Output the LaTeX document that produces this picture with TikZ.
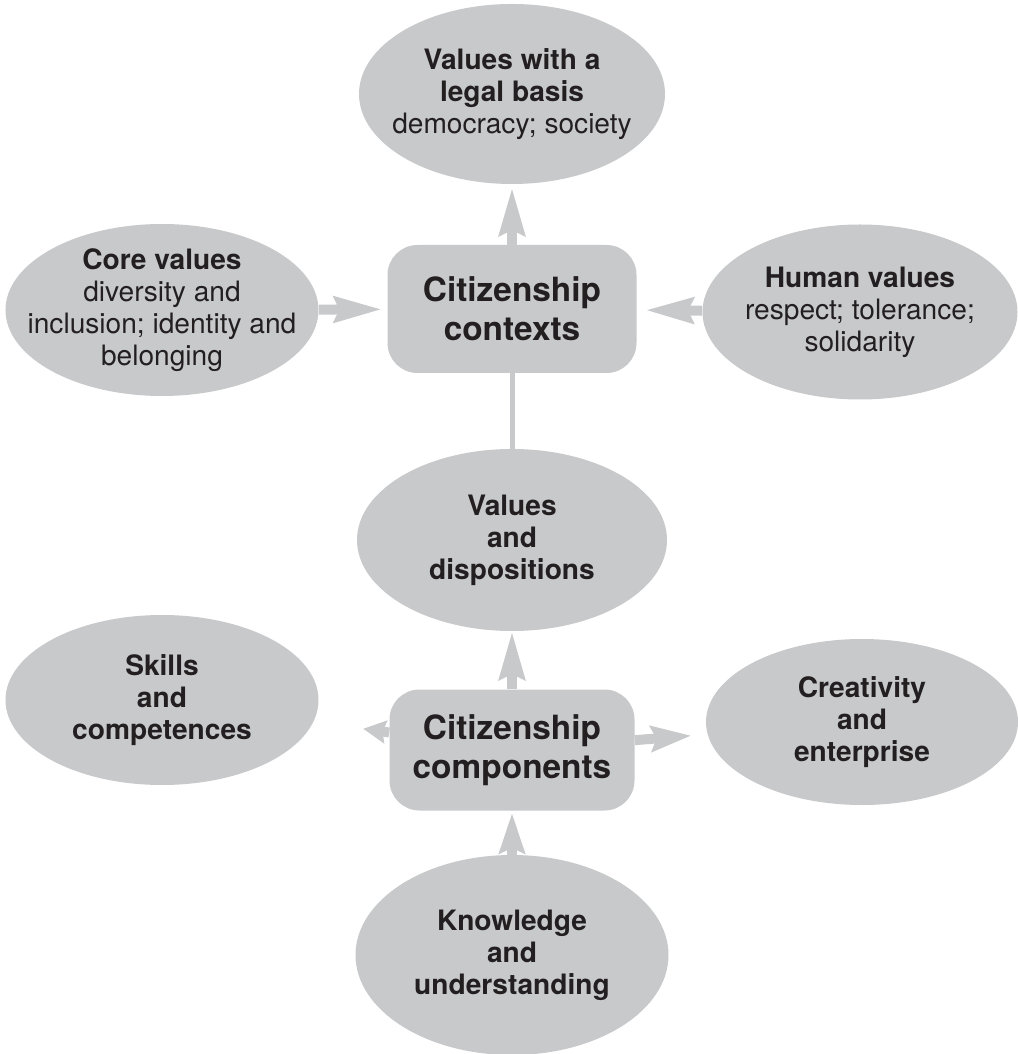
\documentclass[tikz,border=0pt]{standalone}
\usepackage{fontspec}
\setmainfont{TeX Gyre Heros}
\usetikzlibrary{shapes.geometric,arrows.meta}
\definecolor{boxgray}{RGB}{200,201,203}
\definecolor{inkdark}{RGB}{35,31,32}
\begin{document}
\begin{tikzpicture}[node distance=4.3cm]
\tikzstyle{hub} = [rectangle, rounded corners=0.6cm, minimum width=4.98cm, minimum height=2.56cm, text centered, align=center, fill=boxgray, text=inkdark, font=\fontsize{19}{22}\selectfont\bfseries]

\tikzstyle{oval} = [ellipse, inner sep=-0.6cm, minimum width=6.26cm, minimum height=3.5cm, text centered, align=center, fill=boxgray, text=inkdark, font=\fontsize{16}{18.2}\selectfont]

\tikzstyle{arrow} = [line width=0.2cm, draw=boxgray, -{Stealth[length=0.8cm,width=0.5cm,inset=0.1cm]}]
\tikzstyle{longarrow} = [line width=0.2cm, draw=boxgray, -{Stealth[length=0.95cm,width=0.5cm,inset=0.1cm]}]
\tikzstyle{smallarrow} = [line width=0.2cm, draw=boxgray, -{Stealth[length=0.45cm,width=0.45cm,inset=0.06cm]}]

\useasboundingbox (-10.24,6.18) rectangle (10.10,-14.90);

\node (ctx) [hub] {Citizenship\\contexts};
\node (legal) [oval, above of=ctx, minimum width=6.12cm, minimum height=3.6cm] {\textbf{Values with a}\\\textbf{legal basis}\\democracy; society};
\node (core) [oval, left of=ctx, xshift=-2.7cm, yshift=-0.02cm, minimum height=3.44cm] {\textbf{Core values}\\diversity and\\inclusion; identity and\\belonging};
\node (human) [oval, right of=ctx, xshift=2.66cm, yshift=-0.06cm, minimum width=6.3cm] {\textbf{Human values}\\respect; tolerance;\\solidarity};
\node (disp) [oval, below of=ctx, yshift=-0.32cm, minimum width=6.2cm, minimum height=3.64cm] {\textbf{Values}\\\textbf{and}\\\textbf{dispositions}};

\node (comp) [hub, below of=disp, yshift=0.1cm, minimum width=4.9cm, minimum height=2.42cm] {Citizenship\\components};
\node (skills) [oval, left of=comp, xshift=-2.7cm, yshift=1.0cm, minimum height=3.4cm] {\textbf{Skills}\\\textbf{and}\\\textbf{competences}};
\node (creat) [oval, right of=comp, xshift=2.7cm, yshift=0.56cm, minimum width=6.24cm, minimum height=3.32cm] {\textbf{Creativity}\\\textbf{and}\\\textbf{enterprise}};
\node (know) [oval, below of=comp, yshift=0.2cm, minimum height=4.0cm] {\textbf{Knowledge}\\\textbf{and}\\\textbf{understanding}};

\draw [longarrow, shorten >=0.06cm] (ctx) -- (legal);
\draw [longarrow, shorten >=0.1cm] (core) -- (ctx);
\draw [longarrow, shorten >=0.17cm] (human) -- (ctx);
\draw [line width=0.1cm, draw=boxgray] (ctx) -- (disp);
\draw [longarrow] (comp) -- (disp);
\draw [smallarrow, shorten >=1.0cm] (comp) -- (skills);
\draw [arrow, shorten >=0.32cm] (comp) -- (creat);
\draw [arrow, shorten >=0.04cm] (know) -- (comp);

\end{tikzpicture}
\end{document}
